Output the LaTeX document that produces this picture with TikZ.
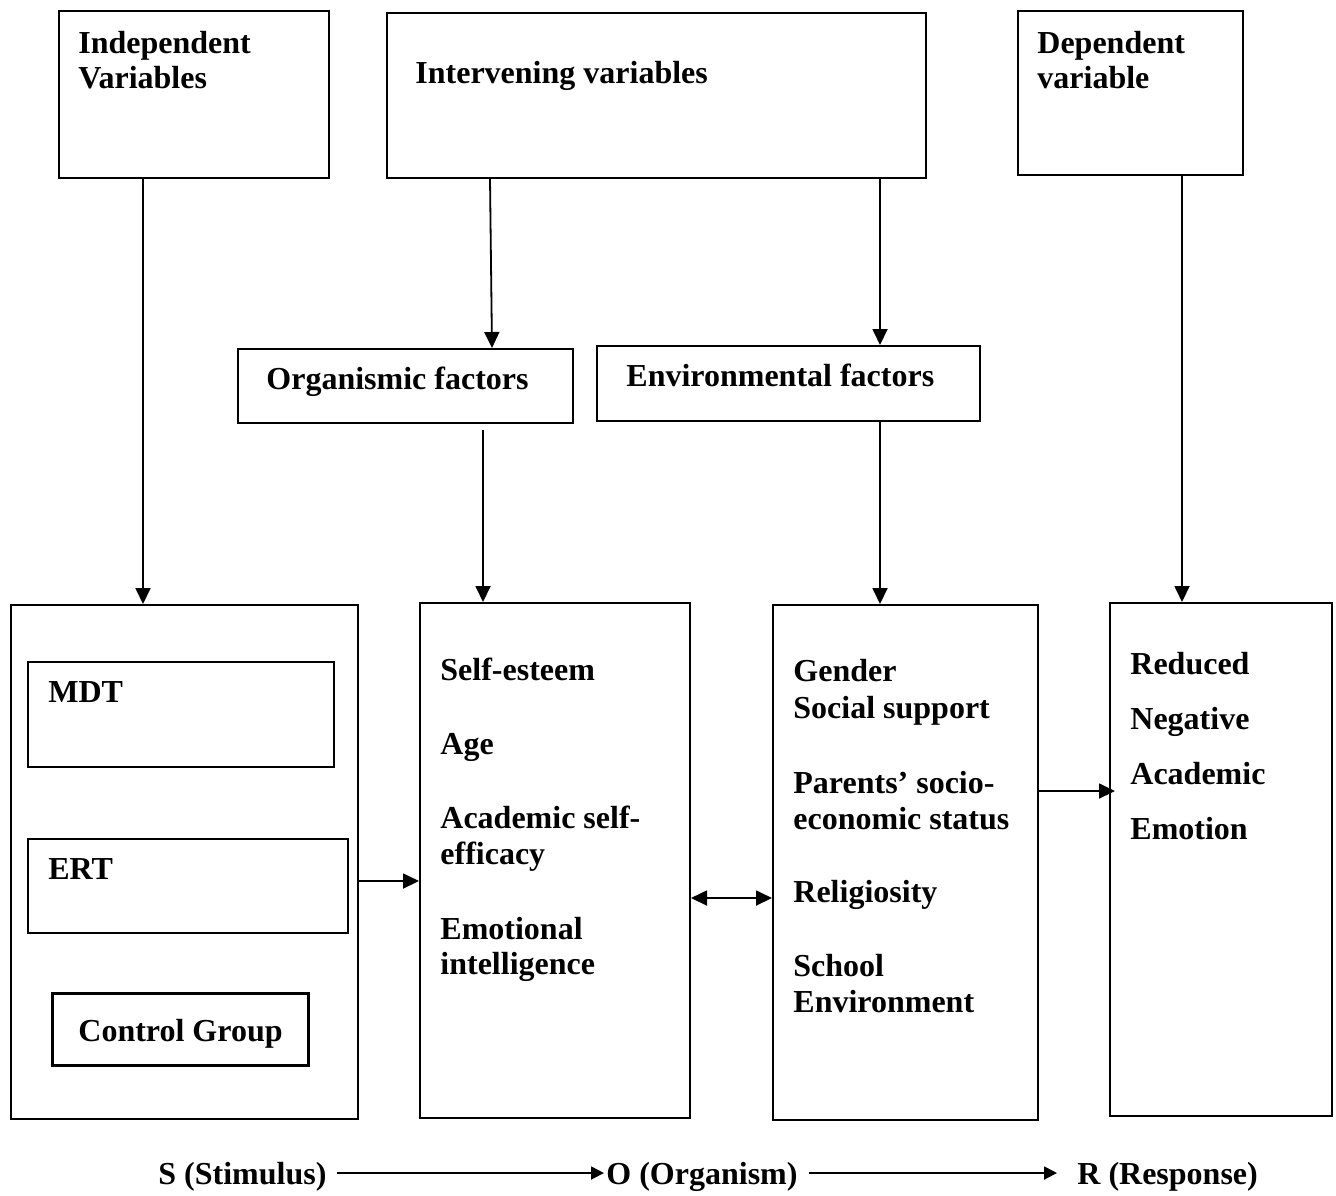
\documentclass[tikz,border=0pt]{standalone}
\usepackage{fontspec}
\setmainfont{Liberation Serif}
\usetikzlibrary{arrows.meta}
\begin{document}
\begin{tikzpicture}[x=0.5pt,y=-0.5pt,
  box/.style={draw, line width=1pt, rectangle, inner sep=0pt, anchor=north west},
  txt/.style={anchor=base west, inner sep=0pt, font=\fontsize{16}{17.5}\selectfont\bfseries},
  arr/.style={line width=0.9pt, -{Triangle[length=8pt,width=7.5pt]}},
  darr/.style={line width=0.9pt, {Triangle[length=8pt,width=7.5pt]}-{Triangle[length=8pt,width=7.5pt]}},
  sarr/.style={line width=0.9pt, -{Triangle[length=6.5pt,width=6.5pt]}}]
\useasboundingbox (0,0) rectangle (1336,1195);
% top boxes
\node[box, minimum width=135pt, minimum height=83.5pt] (iv) at (58,10) {};
\node[box, minimum width=269.5pt, minimum height=82.5pt] (inter) at (386,12) {};
\node[box, minimum width=112.5pt, minimum height=82pt] (dv) at (1017,10) {};
\node[txt] (ivt1) at (78,53) {Independent};
\node[txt] (ivt2) at (78,88) {Variables};
\node[txt] (intt) at (415,83) {Intervening variables};
\node[txt] (dvt1) at (1037,53) {Dependent};
\node[txt] (dvt2) at (1037,88) {variable};
% middle boxes
\node[box, minimum width=167.5pt, minimum height=37pt] (org) at (237,348) {};
\node[box, minimum width=191.5pt, minimum height=37.5pt] (env) at (596,345) {};
\node[txt] (orgt) at (266,389) {Organismic factors};
\node[txt] (envt) at (626,386) {Environmental factors};
% bottom boxes
\node[box, minimum width=173.5pt, minimum height=257pt] (b1) at (10,604) {};
\node[box, minimum width=153pt, minimum height=52.5pt] (mdt) at (27,661) {};
\node[box, minimum width=160pt, minimum height=47pt] (ert) at (27,838) {};
\node[box, line width=1.6pt, minimum width=128pt, minimum height=36pt] (cg) at (51,992) {};
\node[txt] (mdtt) at (48,702) {MDT};
\node[txt] (ertt) at (48,879) {ERT};
\node[txt] (cgt) at (78,1041) {Control Group};
\node[box, minimum width=135pt, minimum height=257.5pt] (b2) at (419,602) {};
\node[txt] (b2a) at (440,680) {Self-esteem};
\node[txt] (b2b) at (440,754) {Age};
\node[txt] (b2c) at (440,828) {Academic self-};
\node[txt] (b2d) at (440,864) {efficacy};
\node[txt] (b2e) at (440,939) {Emotional};
\node[txt] (b2f) at (440,974) {intelligence};
\node[box, minimum width=132.5pt, minimum height=257.5pt] (b3) at (772,604) {};
\node[txt] (b3a) at (793,681) {Gender};
\node[txt] (b3b) at (793,718) {Social support};
\node[txt] (b3c) at (793,793) {Parents’ socio-};
\node[txt] (b3d) at (793,829) {economic status};
\node[txt] (b3e) at (793,902) {Religiosity};
\node[txt] (b3f) at (793,976) {School};
\node[txt] (b3g) at (793,1012) {Environment};
\node[box, minimum width=111pt, minimum height=256.5pt] (b4) at (1109,602) {};
\node[txt] (b4a) at (1130,674) {Reduced};
\node[txt] (b4b) at (1130,729) {Negative};
\node[txt] (b4c) at (1130,784) {Academic};
\node[txt] (b4d) at (1130,839) {Emotion};
% vertical arrows
\draw[arr] ([xshift=42.5pt]iv.south west) -- ([xshift=66.5pt]b1.north west);
\draw[arr] ([xshift=52pt]inter.south west) -- ([xshift=127.5pt]org.north west);
\draw[arr] ([xshift=247pt]inter.south west) -- ([xshift=142pt]env.north west);
\draw[arr] ([xshift=123pt,yshift=-3pt]org.south west) -- ([xshift=32pt]b2.north west);
\draw[arr] ([xshift=142pt]env.south west) -- ([xshift=54pt]b3.north west);
\draw[arr] ([xshift=82.5pt]dv.south west) -- ([xshift=36.5pt]b4.north west);
% horizontal arrows
\draw[arr] (b1.east |- 0,881) coordinate (e1) -- (e1 -| b2.west);
\draw[darr] (b2.east |- 0,898) coordinate (d1) -- (d1 -| b3.west);
\draw[arr] (b3.east |- 0,791) coordinate (r1) -- ([xshift=3pt]r1 -| b4.west);
% bottom row
\node[txt] (s) at (158,1184) {S (Stimulus)};
\node[txt] (o) at (606,1184) {O (Organism)};
\node[txt] (r) at (1077,1184) {R (Response)};
\draw[sarr] ([xshift=5pt,yshift=5.5pt]s.base east) -- ([xshift=-1pt,yshift=5.5pt]o.base west);
\draw[sarr] ([xshift=5.5pt,yshift=5.5pt]o.base east) -- ([xshift=-10pt,yshift=5.5pt]r.base west);
\end{tikzpicture}
\end{document}
